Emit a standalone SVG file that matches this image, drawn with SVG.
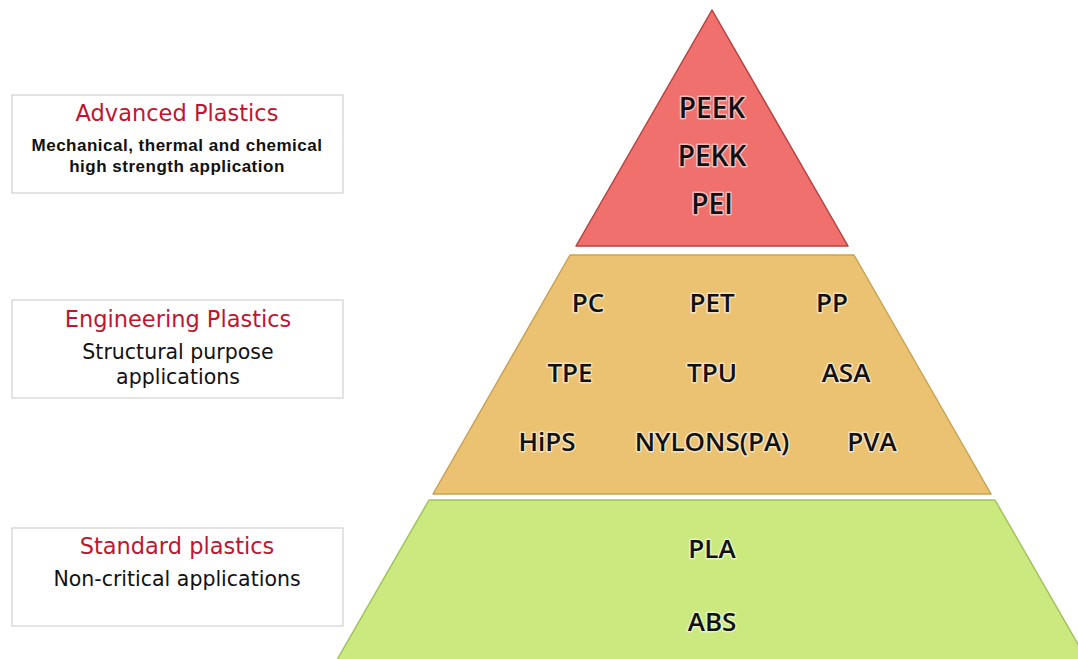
<svg xmlns="http://www.w3.org/2000/svg" width="1078" height="659" viewBox="0 0 1078 659">
  <style>
    .box { fill: #ffffff; stroke: #c8c8c8; stroke-width: 1; }
    .title { font-family: "DejaVu Sans", "Liberation Sans", sans-serif; font-size: 22.5px; fill: #c0152f; text-anchor: middle; }
    .sub { font-family: "DejaVu Sans", "Liberation Sans", sans-serif; font-size: 20.5px; fill: #111; text-anchor: middle; }
    .subb { font-family: "Liberation Sans", "DejaVu Sans", sans-serif; font-size: 17px; font-weight: bold; letter-spacing: 0.5px; fill: #111; text-anchor: middle; }
    .lbl { font-family: "Open Sans", "Liberation Sans", sans-serif; font-weight: 600; font-size: 26px; fill: #111; text-anchor: middle; stroke: #ffffff; stroke-opacity: 0.55; stroke-width: 3; paint-order: stroke; stroke-linejoin: round; }
    .big { font-size: 28px; }
  </style>
  <rect width="1078" height="659" fill="#ffffff"/>

  <g id="box-advanced">
    <rect class="box" x="12" y="95" width="331" height="98"/>
    <text class="title" x="177" y="121">Advanced Plastics</text>
    <text class="subb" x="177" y="151">Mechanical, thermal and chemical</text>
    <text class="subb" x="177" y="172">high strength application</text>
  </g>

  <g id="box-engineering">
    <rect class="box" x="12" y="300" width="331" height="98"/>
    <text class="title" x="178" y="327">Engineering Plastics</text>
    <text class="sub" x="178" y="359">Structural purpose</text>
    <text class="sub" x="178" y="384">applications</text>
  </g>

  <g id="box-standard">
    <rect class="box" x="12" y="528" width="331" height="98"/>
    <text class="title" x="177" y="554">Standard plastics</text>
    <text class="sub" x="177" y="586">Non-critical applications</text>
  </g>

  <g id="tier-advanced">
    <polygon points="712,10 848,246 576,246" fill="#ef706d" stroke="#b8403e" stroke-width="1.5" stroke-linejoin="round"/>
    <text class="lbl big" x="712" y="118">PEEK</text>
    <text class="lbl big" x="712" y="166">PEKK</text>
    <text class="lbl big" x="712" y="214">PEI</text>
  </g>

  <g id="tier-engineering">
    <polygon points="570,255 854,255 991,494 433,494" fill="#eac272" stroke="#c9a253" stroke-width="1.5" stroke-linejoin="round"/>
    <text class="lbl" x="588" y="312">PC</text>
    <text class="lbl" x="712" y="312">PET</text>
    <text class="lbl" x="832" y="312">PP</text>
    <text class="lbl" x="570" y="382">TPE</text>
    <text class="lbl" x="712" y="382">TPU</text>
    <text class="lbl" x="846" y="382">ASA</text>
    <text class="lbl" x="547" y="451">HiPS</text>
    <text class="lbl" x="712" y="451">NYLONS(PA)</text>
    <text class="lbl" x="872" y="451">PVA</text>
  </g>

  <g id="tier-standard">
    <polygon points="429,500 995,500 1090,665 334,665" fill="#cbe97e" stroke="#9fc55c" stroke-width="1.5" stroke-linejoin="round"/>
    <text class="lbl" x="712" y="558">PLA</text>
    <text class="lbl" x="712" y="631">ABS</text>
  </g>

  <g id="connectors"></g>
</svg>
